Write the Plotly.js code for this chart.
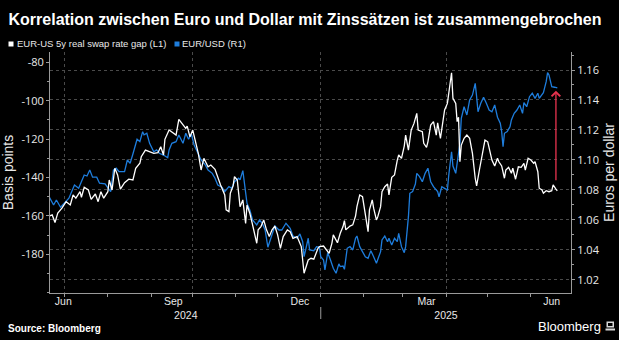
<!DOCTYPE html>
<html>
<head>
<meta charset="utf-8">
<script src="https://cdn.plot.ly/plotly-3.0.1.min.js"></script>
<style>html,body{margin:0;padding:0;background:#000;}#chart{width:619px;height:340px;}</style>
</head>
<body>
<div id="chart"></div>
<script>
// ---------- DATA ----------
const gapName = 'EUR-US 5y real swap rate gap (L1)';
const fxName = 'EUR/USD (R1)';

const gapDates = [
'2024-06-20','2024-06-22','2024-06-24','2024-06-26','2024-06-29','2024-07-02','2024-07-05','2024-07-07','2024-07-09','2024-07-12',
'2024-07-13','2024-07-15','2024-07-18','2024-07-20','2024-07-23','2024-07-25','2024-07-27','2024-07-29','2024-08-01','2024-08-02',
'2024-08-04','2024-08-06','2024-08-08','2024-08-10','2024-08-13','2024-08-16','2024-08-19','2024-08-21','2024-08-24','2024-08-25',
'2024-08-28','2024-08-31','2024-09-03','2024-09-06','2024-09-08','2024-09-10','2024-09-11','2024-09-14','2024-09-17','2024-09-19',
'2024-09-21','2024-09-24','2024-09-26','2024-09-27','2024-09-29','2024-10-01','2024-10-03','2024-10-05','2024-10-07','2024-10-09',
'2024-10-12','2024-10-14','2024-10-17','2024-10-19','2024-10-21','2024-10-24','2024-10-25','2024-10-27','2024-10-28','2024-10-30',
'2024-10-31','2024-11-02','2024-11-03','2024-11-04','2024-11-06','2024-11-08','2024-11-09','2024-11-11','2024-11-13','2024-11-16',
'2024-11-17','2024-11-19','2024-11-21','2024-11-23','2024-11-25','2024-11-27','2024-11-29','2024-12-01','2024-12-03','2024-12-05',
'2024-12-08','2024-12-10','2024-12-12','2024-12-15','2024-12-17','2024-12-18','2024-12-20','2024-12-22','2024-12-23','2024-12-25',
'2024-12-27','2024-12-30','2024-12-31','2025-01-03','2025-01-05','2025-01-07','2025-01-09','2025-01-10','2025-01-13','2025-01-15',
'2025-01-17','2025-01-18','2025-01-19','2025-01-22','2025-01-24','2025-01-26','2025-01-27','2025-01-29','2025-01-31','2025-02-02',
'2025-02-04','2025-02-05','2025-02-07','2025-02-08','2025-02-10','2025-02-11','2025-02-13','2025-02-14','2025-02-16','2025-02-18',
'2025-02-19','2025-02-21','2025-02-23','2025-02-25','2025-02-26','2025-02-28','2025-03-02','2025-03-03','2025-03-05','2025-03-07',
'2025-03-09','2025-03-11','2025-03-12','2025-03-15','2025-03-16','2025-03-18','2025-03-19','2025-03-21','2025-03-23','2025-03-25',
'2025-03-26','2025-03-28','2025-03-30','2025-03-31','2025-04-02','2025-04-03','2025-04-05','2025-04-06','2025-04-08','2025-04-09',
'2025-04-10','2025-04-11','2025-04-12','2025-04-14','2025-04-16','2025-04-18','2025-04-20','2025-04-22','2025-04-23','2025-04-25',
'2025-04-27','2025-04-29','2025-05-01','2025-05-03','2025-05-04','2025-05-06','2025-05-08','2025-05-09','2025-05-11','2025-05-13',
'2025-05-14','2025-05-16','2025-05-18','2025-05-19','2025-05-21','2025-05-23','2025-05-25','2025-05-27','2025-05-28','2025-05-30',
'2025-06-01','2025-06-03','2025-06-04','2025-06-06','2025-06-07','2025-06-09','2025-06-10','2025-06-12','2025-06-14','2025-06-16',
'2025-06-17','2025-06-19','2025-06-20'];

const gapValues = [
-160.1,-159.5,-163.5,-158.6,-156.0,-152.6,-154.3,-149.1,-150.8,-147.4,
-150.3,-145.1,-146.5,-151.4,-148.6,-152.6,-147.4,-150.8,-147.4,-141.3,
-146.5,-135.2,-138.7,-146.1,-142.7,-140.9,-141.3,-135.2,-132.6,-129.2,
-125.7,-126.6,-127.4,-127.1,-124.0,-128.3,-120.1,-115.3,-117.0,-117.9,
-109.7,-112.7,-114.4,-113.2,-118.8,-115.3,-121.4,-127.4,-136.1,-130.0,
-134.4,-133.5,-135.7,-140.4,-143.9,-149.1,-156.9,-157.8,-148.2,-144.4,
-139.6,-141.3,-149.1,-155.2,-151.7,-163.9,-154.3,-158.6,-164.7,-174.3,
-167.3,-165.6,-162.1,-167.3,-170.8,-167.3,-165.3,-169.9,-176.9,-170.8,
-167.3,-168.2,-171.7,-170.8,-174.3,-176.0,-189.9,-184.7,-183.0,-182.1,
-182.6,-176.9,-176.0,-175.7,-177.8,-179.5,-174.3,-169.9,-174.0,-169.1,
-165.6,-162.5,-167.3,-165.3,-164.7,-160.1,-155.2,-149.1,-150.0,-159.5,
-168.2,-156.9,-151.7,-156.0,-162.1,-160.4,-155.2,-147.4,-144.8,-143.4,
-149.1,-139.9,-138.7,-130.9,-128.3,-130.0,-123.6,-117.9,-125.7,-115.3,
-111.8,-106.6,-115.3,-116.1,-122.2,-124.3,-121.4,-112.7,-110.9,-117.9,
-111.5,-119.6,-108.3,-104.8,-101.4,-95.3,-85.4,-98.8,-101.4,-110.9,
-108.6,-131.8,-123.1,-119.6,-117.9,-119.6,-127.4,-140.4,-144.4,-136.1,
-129.2,-120.5,-121.4,-127.4,-130.9,-134.0,-130.0,-131.8,-134.0,-140.4,
-136.1,-134.7,-137.8,-135.2,-140.9,-134.4,-134.7,-132.6,-136.1,-130.0,
-130.9,-132.6,-131.8,-137.0,-145.6,-146.5,-148.2,-146.9,-147.4,-146.9,
-143.9,-146.1,-146.9];

const fxDates = [
'2024-06-20','2024-06-23','2024-06-25','2024-06-28','2024-07-01','2024-07-04','2024-07-08','2024-07-11','2024-07-15','2024-07-17',
'2024-07-19','2024-07-21','2024-07-24','2024-07-26','2024-07-30','2024-08-01','2024-08-03','2024-08-05','2024-08-07','2024-08-09',
'2024-08-13','2024-08-15','2024-08-17','2024-08-19','2024-08-22','2024-08-24','2024-08-26','2024-08-27','2024-08-29','2024-08-31',
'2024-09-03','2024-09-05','2024-09-07','2024-09-10','2024-09-13','2024-09-14','2024-09-16','2024-09-19','2024-09-21','2024-09-24',
'2024-09-26','2024-09-28','2024-09-30','2024-10-02','2024-10-05','2024-10-07','2024-10-10','2024-10-12','2024-10-15','2024-10-17',
'2024-10-19','2024-10-22','2024-10-24','2024-10-27','2024-10-29','2024-10-31','2024-11-03','2024-11-04','2024-11-06','2024-11-08',
'2024-11-09','2024-11-11','2024-11-13','2024-11-16','2024-11-18','2024-11-20','2024-11-22','2024-11-24','2024-11-27','2024-11-29',
'2024-12-02','2024-12-04','2024-12-07','2024-12-10','2024-12-12','2024-12-15','2024-12-17','2024-12-19','2024-12-20','2024-12-23',
'2024-12-24','2024-12-27','2024-12-29','2024-12-31','2025-01-01','2025-01-03','2025-01-04','2025-01-06','2025-01-08','2025-01-10',
'2025-01-12','2025-01-14','2025-01-15','2025-01-17','2025-01-18','2025-01-20','2025-01-22','2025-01-24','2025-01-26','2025-01-27',
'2025-01-29','2025-01-31','2025-02-02','2025-02-04','2025-02-06','2025-02-08','2025-02-10','2025-02-13','2025-02-14','2025-02-16',
'2025-02-18','2025-02-19','2025-02-21','2025-02-23','2025-02-25','2025-02-26','2025-02-28','2025-03-02','2025-03-03','2025-03-05',
'2025-03-06','2025-03-08','2025-03-10','2025-03-11','2025-03-13','2025-03-15','2025-03-17','2025-03-19','2025-03-21','2025-03-23',
'2025-03-26','2025-03-27','2025-03-29','2025-03-31','2025-04-02','2025-04-03','2025-04-05','2025-04-06','2025-04-08','2025-04-09',
'2025-04-11','2025-04-12','2025-04-14','2025-04-16','2025-04-18','2025-04-20','2025-04-22','2025-04-23','2025-04-24','2025-04-26',
'2025-04-28','2025-04-30','2025-05-02','2025-05-04','2025-05-06','2025-05-08','2025-05-10','2025-05-11','2025-05-12','2025-05-13',
'2025-05-15','2025-05-17','2025-05-18','2025-05-20','2025-05-22','2025-05-24','2025-05-26','2025-05-27','2025-05-29','2025-05-31',
'2025-06-02','2025-06-04','2025-06-06','2025-06-07','2025-06-09','2025-06-10','2025-06-12','2025-06-13','2025-06-14','2025-06-16',
'2025-06-18','2025-06-20'];

const fxValues = [
1.0751,1.0700,1.0733,1.0685,1.0715,1.0745,1.0833,1.0811,1.0900,1.0893,
1.0933,1.0885,1.0885,1.0845,1.0840,1.0811,1.0789,1.0933,1.0945,1.0922,
1.0922,1.1000,1.0978,1.1040,1.1138,1.1122,1.1189,1.1167,1.1178,1.1111,
1.1055,1.1067,1.1045,1.1033,1.1015,1.1067,1.1111,1.1122,1.1167,1.1111,
1.1178,1.1138,1.1173,1.1100,1.1033,1.1000,1.0967,1.0933,1.0911,1.0878,
1.0833,1.0818,1.0789,1.0822,1.0811,1.0855,1.0878,1.0867,1.0929,1.0800,
1.0711,1.0667,1.0600,1.0567,1.0600,1.0578,1.0533,1.0418,1.0511,1.0560,
1.0533,1.0533,1.0578,1.0545,1.0493,1.0478,1.0507,1.0455,1.0355,1.0478,
1.0400,1.0395,1.0422,1.0418,1.0355,1.0333,1.0267,1.0382,1.0333,1.0278,
1.0245,1.0307,1.0289,1.0293,1.0271,1.0411,1.0422,1.0400,1.0478,1.0493,
1.0422,1.0389,1.0355,1.0345,1.0395,1.0355,1.0311,1.0389,1.0467,1.0493,
1.0455,1.0478,1.0433,1.0478,1.0455,1.0511,1.0422,1.0382,1.0422,1.0622,
1.0778,1.0789,1.0840,1.0911,1.0889,1.0855,1.0911,1.0945,1.0855,1.0822,
1.0789,1.0755,1.0822,1.0811,1.0800,1.0900,1.1055,1.0960,1.0911,1.0978,
1.1111,1.1278,1.1355,1.1300,1.1400,1.1433,1.1511,1.1422,1.1322,1.1378,
1.1418,1.1378,1.1333,1.1322,1.1367,1.1285,1.1245,1.1189,1.1089,1.1178,
1.1189,1.1222,1.1267,1.1311,1.1333,1.1367,1.1311,1.1382,1.1355,1.1422,
1.1445,1.1411,1.1445,1.1411,1.1433,1.1449,1.1522,1.1582,1.1567,1.1489,
1.1485,1.1480];

// axis ticks and labels
const leftTickVals = [-180, -160, -140, -120, -100, -80];
const leftTickText = ['-180', '-160', '-140', '-120', '-100', '-80'];
const rightTickVals = [1.02, 1.04, 1.06, 1.08, 1.10, 1.12, 1.14, 1.16];
const quarterStarts = ['2024-07-01', '2024-10-01', '2025-01-01', '2025-04-01'];
const monthLabelDates = ['2024-06-30', '2024-09-17', '2024-12-17', '2025-03-18', '2025-06-16'];
const monthLabels = ['Jun', 'Sep', 'Dec', 'Mar', 'Jun'];
const yearLabelDates = ['2024-09-26', '2025-04-01'];
const yearLabels = ['2024', '2025'];
const yearBoundary = '2025-01-01';

// arrow marking the divergence (on the EUR/USD scale)
const arrowDate = '2025-06-19';
const arrowFrom = 1.0855;
const arrowTo = 1.1462;

// ---------- LAYOUT HELPERS ----------
const W = 619, H = 340, ML = 50, MR = 48, MT = 52, MB = 47;
const PW = W - ML - MR, PH = H - MT - MB;
const PX = px => (px - ML) / PW;
const PY = py => (H - MB - py) / PH;
const xRange = ['2024-06-20 10:00', '2025-06-29 20:00'];

const WHITE = '#ffffff';
const BLUE = '#1e7ddc';
const AXIS = '#9a9a9a';
const GRID = '#4a4a4a';
const TXT = '#e8e8e8';
const tickFont = {family: 'Open Sans, Liberation Sans, sans-serif', size: 11, color: TXT};
const legendFont = {family: 'Liberation Sans, Arial, sans-serif', size: 9.5, color: TXT};

const traces = [
  {x: fxDates, y: fxValues, name: fxName, type: 'scatter', mode: 'lines',
   line: {color: BLUE, width: 1.3}, xaxis: 'x', yaxis: 'y', hoverinfo: 'skip'},
  {x: gapDates, y: gapValues, name: gapName, type: 'scatter', mode: 'lines',
   line: {color: WHITE, width: 1.3}, xaxis: 'x', yaxis: 'y2', hoverinfo: 'skip'},
  {x: [], y: [], xaxis: 'x2', yaxis: 'y', showlegend: false, hoverinfo: 'skip'},
  {x: [], y: [], xaxis: 'x3', yaxis: 'y', showlegend: false, hoverinfo: 'skip'}
];

const layout = {
  width: W, height: H,
  margin: {l: ML, r: MR, t: MT, b: MB, pad: 0},
  paper_bgcolor: '#000', plot_bgcolor: '#000',
  font: {family: 'Liberation Sans, Arial, sans-serif', color: TXT},
  showlegend: false,
  title: {
    text: '<b>Korrelation zwischen Euro und Dollar mit Zinssätzen ist zusammengebrochen</b>',
    xref: 'container', yref: 'container', x: 8.5 / W, xanchor: 'left',
    y: 1 - 19 / H, yanchor: 'middle',
    font: {family: 'Liberation Sans, Arial, sans-serif', size: 16, color: '#ffffff'}
  },
  xaxis: {
    type: 'date', range: xRange, anchor: 'y',
    tickmode: 'array', tickvals: quarterStarts, showticklabels: false,
    ticks: 'outside', ticklen: 3, tickcolor: AXIS, tickwidth: 1,
    showgrid: true, gridcolor: GRID, griddash: 'dot', gridwidth: 1,
    showline: true, linecolor: AXIS, linewidth: 1, zeroline: false,
    minor: {tickmode: 'linear', tick0: '2024-07-01', dtick: 'M1', ticks: 'outside', ticklen: 3, tickcolor: AXIS, showgrid: false}
  },
  xaxis2: {
    type: 'date', range: xRange, overlaying: 'x', anchor: 'y', side: 'bottom',
    tickmode: 'array', tickvals: monthLabelDates, ticktext: monthLabels,
    ticks: '', showgrid: false, showline: false, zeroline: false,
    tickfont: {family: 'Liberation Sans, Arial, sans-serif', size: 10.5, color: TXT}
  },
  xaxis3: {
    type: 'date', range: xRange, overlaying: 'x', anchor: 'y', side: 'bottom',
    tickmode: 'array', tickvals: yearLabelDates, ticktext: yearLabels,
    ticks: '', showgrid: false, showline: false, zeroline: false,
    ticklabelstandoff: 14,
    tickfont: {family: 'Liberation Sans, Arial, sans-serif', size: 10.5, color: TXT}
  },
  yaxis: {
    side: 'right', range: [1.0113, 1.1720],
    tickmode: 'array', tickvals: rightTickVals, tickformat: '.2f',
    ticks: 'outside', ticklen: 3, tickcolor: AXIS,
    showgrid: true, gridcolor: GRID, griddash: 'dot', gridwidth: 1,
    showline: true, linecolor: AXIS, zeroline: false,
    tickfont: tickFont,
    minor: {tickmode: 'linear', tick0: 1, dtick: 0.01, ticks: 'outside', ticklen: 2, tickcolor: AXIS, showgrid: false},
    title: {text: 'Euros per dollar', font: {family: 'Liberation Sans, Arial, sans-serif', size: 14, color: TXT}, standoff: 5}
  },
  yaxis2: {
    side: 'left', overlaying: 'y', anchor: 'x', range: [-200.2, -74.6],
    tickmode: 'array', tickvals: leftTickVals, ticktext: leftTickText,
    ticks: 'outside', ticklen: 3, tickcolor: AXIS,
    showgrid: false, showline: true, linecolor: AXIS, zeroline: false,
    tickfont: tickFont,
    minor: {tickmode: 'linear', tick0: 0, dtick: 10, ticks: 'outside', ticklen: 2, tickcolor: AXIS, showgrid: false},
    title: {text: 'Basis points', font: {family: 'Liberation Sans, Arial, sans-serif', size: 14, color: TXT}, standoff: 6}
  },
  shapes: [
    // legend swatches
    {type: 'rect', xref: 'paper', yref: 'paper', x0: PX(8.5), x1: PX(13.5), y0: PY(46.5), y1: PY(41.5), fillcolor: WHITE, line: {width: 0}},
    {type: 'rect', xref: 'paper', yref: 'paper', x0: PX(174.5), x1: PX(179.5), y0: PY(46.5), y1: PY(41.5), fillcolor: BLUE, line: {width: 0}},
    // year separator
    {type: 'line', xref: 'x', yref: 'paper', x0: yearBoundary, x1: yearBoundary, y0: PY(307), y1: PY(319), line: {color: AXIS, width: 1}},
    // Bloomberg terminal icon
    {type: 'rect', xref: 'paper', yref: 'paper', x0: PX(606.5), x1: PX(614), y0: PY(327.5), y1: PY(321.5), fillcolor: '#d8d8d8', line: {width: 0}},
    {type: 'rect', xref: 'paper', yref: 'paper', x0: PX(608), x1: PX(612.5), y0: PY(326), y1: PY(323), fillcolor: '#000', line: {width: 0}},
    {type: 'rect', xref: 'paper', yref: 'paper', x0: PX(605.5), x1: PX(615), y0: PY(330.5), y1: PY(328.5), fillcolor: '#d8d8d8', line: {width: 0}}
  ],
  annotations: [
    {text: gapName, xref: 'paper', yref: 'paper', x: PX(14.5), y: PY(44), xanchor: 'left', yanchor: 'middle', showarrow: false, font: legendFont},
    {text: fxName, xref: 'paper', yref: 'paper', x: PX(179.5), y: PY(44), xanchor: 'left', yanchor: 'middle', showarrow: false, font: legendFont},
    {text: '<b>Source: Bloomberg</b>', xref: 'paper', yref: 'paper', x: PX(6), y: PY(328.5), xanchor: 'left', yanchor: 'middle', showarrow: false,
     font: {family: 'Liberation Sans, Arial, sans-serif', size: 10, color: '#ffffff'}},
    {text: 'Bloomberg', xref: 'paper', yref: 'paper', x: PX(603), y: PY(326.5), xanchor: 'right', yanchor: 'middle', showarrow: false,
     font: {family: 'Liberation Sans, Arial, sans-serif', size: 13, color: '#ffffff'}},
    {x: arrowDate, y: arrowTo, ax: arrowDate, ay: arrowFrom, xref: 'x', yref: 'y', axref: 'x', ayref: 'y',
     text: '', showarrow: true, arrowhead: 4, arrowsize: 1.3, arrowwidth: 1.3, arrowcolor: '#e8334f', standoff: 0, startstandoff: 0}
  ]
};

Plotly.newPlot('chart', traces, layout, {staticPlot: true, displayModeBar: false});
</script>
</body>
</html>
